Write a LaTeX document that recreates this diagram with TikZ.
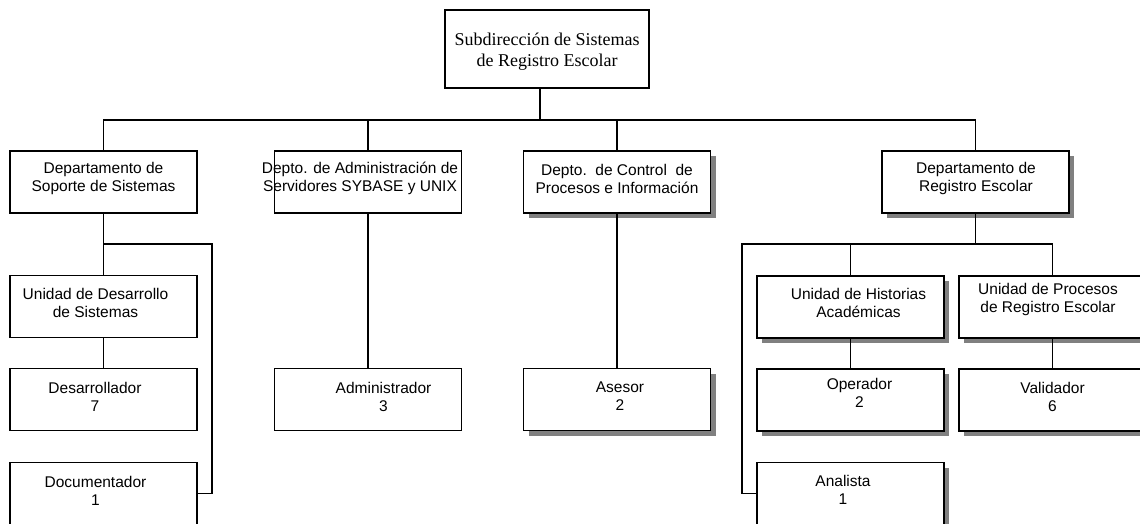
\documentclass[tikz,border=0pt]{standalone}
\usepackage{fontspec}
\setmainfont{Liberation Serif}
\setsansfont{Liberation Sans}
\usetikzlibrary{shadows}

\tikzset{
  box/.style={draw, line width=1.6pt, fill=white, minimum width=187pt, minimum height=62pt, inner sep=0pt},
  sbox/.style={box, drop shadow={shadow xshift=5pt, shadow yshift=-5pt, fill=black!50, opacity=1}},
  txt/.style={align=center, inner sep=0pt, font=\sffamily\fontsize{15.5}{17.5}\selectfont},
  link/.style={line width=1.4pt},
}

\begin{document}
\begin{tikzpicture}[x=1pt, y=-1pt]
	\useasboundingbox (0,0) rectangle (1140,523);

	% Top of the chart
	\node[box, minimum width=204pt, minimum height=78pt] (top) at (547,49) {};
	\node[align=center, inner sep=0pt, font=\fontsize{18}{21}\selectfont] (top-t) at (547,52) {Subdirección de Sistemas\\de Registro Escolar};

	% Departments
	\node[box] (soporte) at (103.5,182) {};
	\node[box] (admdep) at (368,182) {};
	\node[sbox] (control) at (617,182) {};
	\node[sbox] (registro) at (975.5,182) {};
	\node[txt] (soporte-t) at (103.5,178.5) {Departamento de\\Soporte de Sistemas};
	\node[txt] (admdep-t) at (360,178.5) {Depto. de Administración de\\Servidores SYBASE y UNIX};
	\node[txt] (control-t) at (617,179) {Depto.\ \ de Control\ \ de\\Procesos e Información};
	\node[txt] (registro-t) at (976,178.5) {Departamento de\\Registro Escolar};

	% Units and staff on the left
	\node[box] (udes) at (103.5,306.5) {};
	\node[box] (desa) at (103.5,399.5) {};
	\node[box] (docu) at (103.5,493.5) {};
	\node[box] (admin) at (368,399.5) {};
	\node[txt] (udes-t) at (95.5,303) {Unidad de Desarrollo\\de Sistemas};
	\node[txt] (desa-t) at (95,397) {Desarrollador\\7};
	\node[txt] (docu-t) at (95.5,491) {Documentador\\1};
	\node[txt] (admin-t) at (383.5,397) {Administrador\\3};

	% Units and staff on the right
	\node[sbox] (asesor) at (617,399.5) {};
	\node[sbox] (uhist) at (850.5,307) {};
	\node[sbox] (uproc) at (1052.5,307) {};
	\node[sbox] (oper) at (850.5,400) {};
	\node[sbox] (valid) at (1052.5,400) {};
	\node[sbox] (anal) at (850.5,493.5) {};
	\node[txt] (asesor-t) at (620,396) {Asesor\\2};
	\node[txt] (uhist-t) at (858.5,303) {Unidad de Historias\\Académicas};
	\node[txt] (uproc-t) at (1048,299.5) {Unidad de Procesos\\de Registro Escolar};
	\node[txt] (oper-t) at (859.5,393) {Operador\\2};
	\node[txt] (valid-t) at (1052.5,397) {Validador\\6};
	\node[txt] (anal-t) at (843,490) {Analista\\1};

	% Bus lines
	\coordinate (bus) at (0,120);
	\coordinate (sbr) at (212,244);
	\coordinate (rbr) at (742,244);

	\draw[link] (soporte.north) |- (registro.north |- bus) -- (registro.north);
	\draw[link] ([xshift=-7pt]top.south) -- ([xshift=-7pt]top.south |- bus);
	\foreach \n in {admdep, control}
	\draw[link] (\n.north) -- (\n.north |- bus);

	% Left branches
	\draw[link] (soporte.south) -- (udes.north);
	\draw[link] (soporte.south |- sbr) -- (sbr) |- (docu.east);
	\draw[link] (udes.south) -- (desa.north);
	\draw[link] (admdep.south) -- (admin.north);
	\draw[link] (control.south) -- (asesor.north);

	% Right branches
	\draw[link] (registro.south) -- (registro.south |- rbr);
	\draw[link] (anal.west) -| (rbr) -- (uproc.north |- rbr) -- (uproc.north);
	\draw[link] (uhist.north) -- (uhist.north |- rbr);
	\draw[link] (uhist.south) -- (oper.north);
	\draw[link] (uproc.south) -- (valid.north);
\end{tikzpicture}
\end{document}
